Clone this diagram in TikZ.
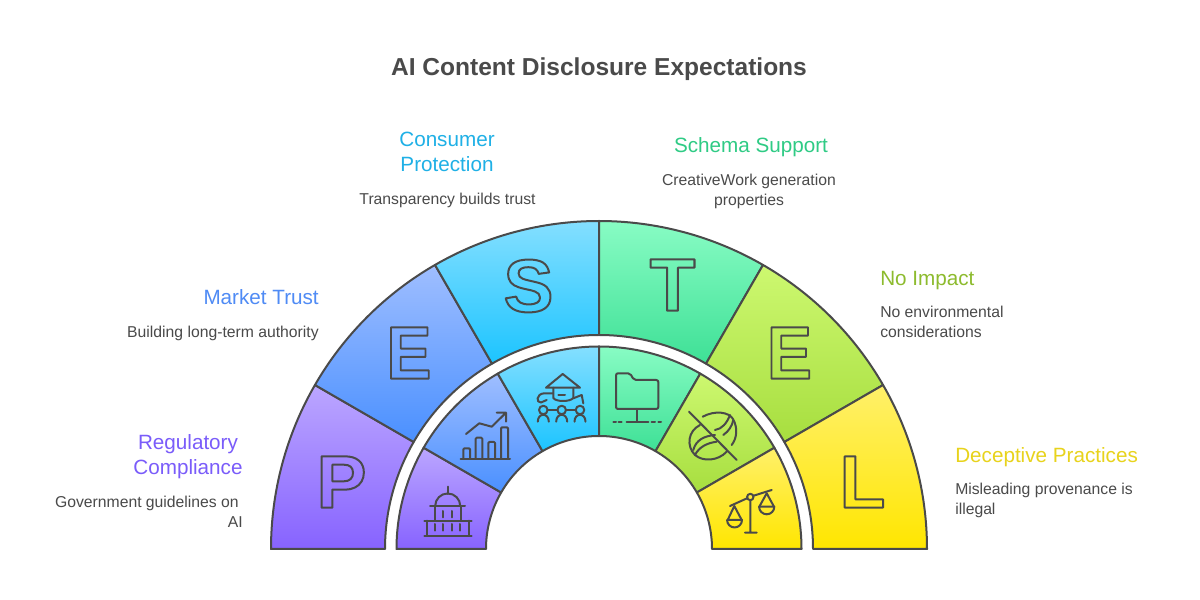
\documentclass[tikz,border=0pt]{standalone}
\usepackage{fontspec}
\setmainfont{Liberation Sans}
\definecolor{ink}{HTML}{4A4A4A}
\definecolor{pT}{HTML}{BBA6FF}\definecolor{pB}{HTML}{8763FF}
\definecolor{eT}{HTML}{9FBEFF}\definecolor{eB}{HTML}{4A90FF}
\definecolor{sT}{HTML}{84DFFF}\definecolor{sB}{HTML}{1CC4FF}
\definecolor{tT}{HTML}{88FCC4}\definecolor{tB}{HTML}{3EE096}
\definecolor{gT}{HTML}{CDF870}\definecolor{gB}{HTML}{A7DE3F}
\definecolor{lT}{HTML}{FFF06A}\definecolor{lB}{HTML}{FFE600}
\definecolor{hP}{HTML}{7A5CFA}\definecolor{hE}{HTML}{4F8BF5}
\definecolor{hS}{HTML}{1FB0E6}\definecolor{hT}{HTML}{2FCB85}
\definecolor{hG}{HTML}{8DBB2E}\definecolor{hL}{HTML}{E8D31C}
\newcommand\outl[1]{\special{pdf:code q 1 Tr 1.5 w 1 j 0.29 0.29 0.29 RG}#1\special{pdf:code Q}}
\newcommand\ringseg[6]{\draw[segline,top color=#5,bottom color=#6]
  (#1:#3) arc[start angle=#1,end angle=#2,radius=#3*0.75pt] -- (#2:#4)
  arc[start angle=#2,end angle=#1,radius=#4*0.75pt] -- cycle;}
\tikzset{
  segline/.style={draw=ink,line width=1.5pt,line join=round},
  icon/.style={draw=ink,line width=1.5pt,line cap=round,line join=round},
  head/.style={font=\fontsize{15.5pt}{18.75pt}\selectfont,inner sep=0pt,align=center},
  desc/.style={font=\fontsize{11.8pt}{15pt}\selectfont,text=ink,inner sep=0pt},
  bigl/.style={font=\fontsize{56pt}{60pt}\selectfont\bfseries,inner sep=0pt}
}
\begin{document}
\begin{tikzpicture}[x=0.75pt,y=0.75pt]
\useasboundingbox (0,0) rectangle (1200,600);
\fill[white] (0,0) rectangle (1200,600);
\begin{scope}[shift={(599,51)}]
\ringseg{180}{150}{328}{214}{pT}{pB}
\ringseg{150}{120}{328}{214}{eT}{eB}
\ringseg{120}{90}{328}{214}{sT}{sB}
\ringseg{90}{60}{328}{214}{tT}{tB}
\ringseg{60}{30}{328}{214}{gT}{gB}
\ringseg{30}{0}{328}{214}{lT}{lB}
\ringseg{180}{150}{202.5}{113}{pT}{pB}
\ringseg{150}{120}{202.5}{113}{eT}{eB}
\ringseg{120}{90}{202.5}{113}{sT}{sB}
\ringseg{90}{60}{202.5}{113}{tT}{tB}
\ringseg{60}{30}{202.5}{113}{gT}{gB}
\ringseg{30}{0}{202.5}{113}{lT}{lB}
\end{scope}
\node[bigl] (lp) at (341.5,118) {\outl{P}};
\node[bigl] (le1) at (409,247) {\scalebox{0.9}[1]{\outl{E}}};
\node[bigl] (ls) at (528.5,314) {\outl{S}};
\node[bigl] (lt) at (672.5,315) {\outl{T}};
\node[bigl] (le2) at (789.5,247) {\scalebox{0.9}[1]{\outl{E}}};
\node[bigl] (ll) at (862.5,118) {\outl{L}};
\node[font=\fontsize{18.4pt}{23pt}\selectfont\bfseries,text=ink,inner sep=0pt] (title) at (599,531) {AI Content Disclosure Expectations};
\node[head,text=hP] (h1) at (188,143) {Regulatory\\Compliance};
\node[desc,anchor=east,align=right] (d1) at (243,88) {Government guidelines on\kern3pt\\AI};
\node[head,text=hE,anchor=east] (h2) at (319,303) {Market Trust};
\node[desc,anchor=east] (d2) at (319,267) {Building long-term authority};
\node[head,text=hS] (h3) at (447,448) {Consumer\\Protection};
\node[desc] (d3) at (447.5,400) {Transparency builds trust};
\node[head,text=hT] (h4) at (751,453) {Schema Support};
\node[desc,align=center] (d4) at (749,409) {CreativeWork generation\\properties};
\node[head,text=hG,anchor=west] (h5) at (880,319) {No Impact};
\node[desc,anchor=west,align=left] (d5) at (880,278) {No environmental\\considerations};
\node[head,text=hL,anchor=west] (h6) at (955,143) {Deceptive Practices};
\node[desc,anchor=west,align=left] (d6) at (955,100) {Misleading provenance is\\illegal};
\begin{scope}[shift={(0,600)},yscale=-1]
% capitol
\draw[icon] (424.3,536)--(471.7,536) (424.3,520.7)--(471.7,520.7) (426.7,520.7)--(426.7,536) (469.3,520.7)--(469.3,536)
 (435,524)--(435,530.7) (443.3,524)--(443.3,530.7) (451.7,524)--(451.7,530.7) (460,524)--(460,530.7)
 (435,506)--(435,520.7) (460.7,506)--(460.7,520.7) (430,506)--(465,506)
 (443.3,511)--(443.3,517.3) (451.7,511)--(451.7,517.3) (447.7,486.7)--(447.7,494);
\draw[icon] (435.2,506) arc[start angle=180,end angle=360,radius=9.4pt];
% chart
\draw[icon] (460.7,459)--(510,459);
\draw[icon,rounded corners=0.8pt] (463.3,459)--(463.3,448.3)--(470,448.3)--(470,459);
\draw[icon,rounded corners=0.8pt] (475.7,459)--(475.7,437.7)--(482.3,437.7)--(482.3,459);
\draw[icon,rounded corners=0.8pt] (488.3,459)--(488.3,442)--(495,442)--(495,459);
\draw[icon,rounded corners=0.8pt] (501,459)--(501,427.3)--(508,427.3)--(508,459);
\draw[icon] (466,434)--(479.3,423.3)--(491.7,426.7)--(506,412.7) (496.7,412.7)--(506,412.7)--(506,421.7);
% people
\draw[icon] (562.7,374)--(546,387.7)--(580,387.7)--cycle;
\draw[icon] (553.3,387.7)--(553.3,398) .. controls (556,402) and (570,402) .. (573.3,398)--(573.3,387.7);
\draw[icon] (558.3,395)--(565,395);
\draw[icon] (553,393.3)--(544,393.3) .. controls (536,394) and (536,403) .. (541,402.5) -- (546.7,400);
\draw[icon] (573.3,398.3)--(581.7,395)--(583.3,403.3);
\foreach \px in {543.3,561.7,580}{
 \draw[icon] (\px,410) circle[radius=3.2pt];
 \draw[icon] (\px-5.5,421.7) .. controls (\px-5.5,412.5) and (\px+5.5,412.5) .. (\px+5.5,421.7);
}
\draw[icon] (547.5,410)--(557.5,410) (566,410)--(575.8,410);
% folder
\draw[icon,rounded corners=1.5pt] (616,409)--(616,373.3)--(630,373.3)--(634,380)--(658.3,380)--(658.3,409)--cycle;
\draw[icon] (637.3,409)--(637.3,421.7) (626.7,421.7)--(648.3,421.7) (613.3,421.7)--(616,421.7) (618.5,421.7)--(621.7,421.7) (651.7,421.7)--(655,421.7) (658.3,421.7)--(661,421.7);
% leaf
\draw[icon] (689,411.7)--(736.7,460);
\draw[icon] (702.7,416.7) .. controls (715,410) and (729,412) .. (733,419) .. controls (738,428) and (737,438) .. (731.7,445);
\draw[icon] (700,425) .. controls (688,431) and (686,446) .. (695,455) .. controls (703,462) and (718,461) .. (726.7,451.7);
\draw[icon] (715,430) .. controls (722,429) and (727,423) .. (730,415);
\draw[icon] (723.3,435) .. controls (729,431) and (732,426) .. (733.3,420);
\draw[icon] (693.3,450) .. controls (696,440) and (704,436) .. (715,435);
\draw[icon] (695,455) .. controls (699,447) and (707,443) .. (716.7,441.7);
% scales
\draw[icon] (730,506)--(747.3,498.2) (753.3,495.8)--(771.7,490) (750.3,500.2)--(750.3,532.7) (745,532.7)--(756.7,532.7);
\draw[icon] (750.3,497) circle[radius=2.4pt];
\draw[icon] (727.7,520)--(734.3,506)--(741.7,520) (759.3,506.7)--(766.7,493.3)--(774,506.7);
\draw[icon] (727,520)--(742,520) arc[start angle=0,end angle=180,radius=5.6pt];
\draw[icon] (759,506.7)--(774.3,506.7) arc[start angle=0,end angle=180,radius=5.7pt];
\end{scope}
\end{tikzpicture}
\end{document}
